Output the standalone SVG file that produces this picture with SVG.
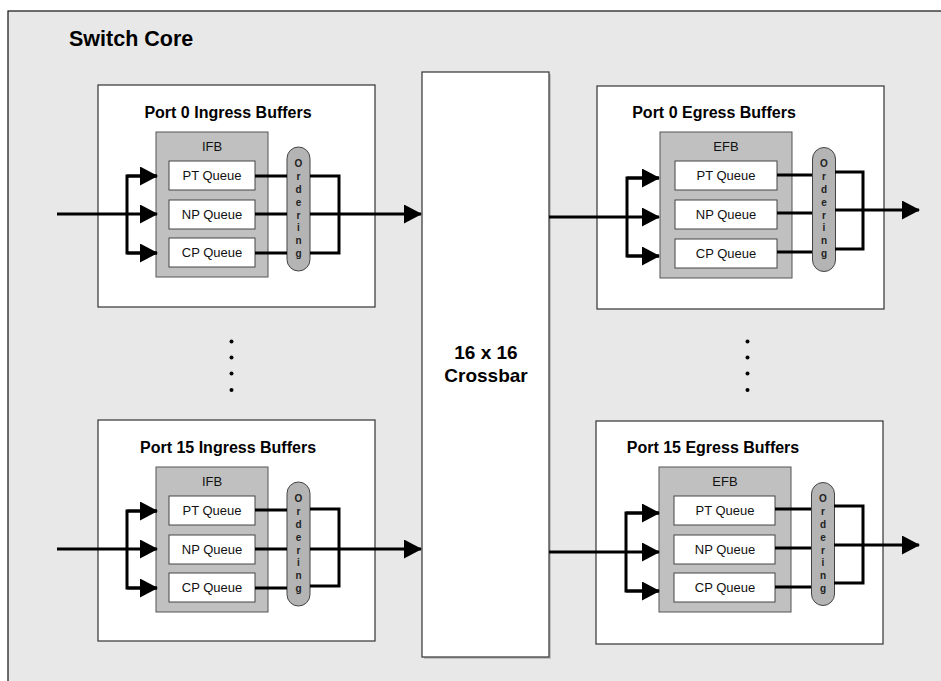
<svg xmlns="http://www.w3.org/2000/svg" width="941" height="681" viewBox="0 0 941 681">
<style>
.frame{fill:#e8e8e8;stroke:#111;stroke-width:1.2}
.box{fill:#fff;stroke:#333;stroke-width:1.2}
.fb{fill:#c0c0c0;stroke:#555;stroke-width:1}
.q{fill:#fff;stroke:#444;stroke-width:1}
.ord{fill:#b4b4b4;stroke:#444;stroke-width:1}
.title{font-family:"Liberation Sans",Arial,sans-serif;font-weight:bold;font-size:16px;fill:#000;text-anchor:middle}
.lbl{font-family:"Liberation Sans",Arial,sans-serif;font-size:13px;fill:#111;text-anchor:middle}
.ol{font-family:"Liberation Sans",Arial,sans-serif;font-weight:bold;font-size:10px;fill:#222;text-anchor:middle}
.big{font-family:"Liberation Sans",Arial,sans-serif;font-weight:bold;font-size:19px;fill:#000;text-anchor:middle}
.w{fill:none;stroke:#000;stroke-width:3}
.a{fill:none;stroke:#000;stroke-width:3;marker-end:url(#ah)}
.dot{fill:#000}
</style>
<defs>
<marker id="ah" markerUnits="userSpaceOnUse" markerWidth="18" markerHeight="19" refX="17" refY="9.5" orient="auto" viewBox="0 0 18 19">
<path d="M0,0 L18,9.5 L0,19 z" fill="#000"/>
</marker>
</defs>

<g id="switch-core">
<rect class="frame" x="8" y="11" width="940" height="680"/>
<text x="69" y="46" font-family="'Liberation Sans',Arial,sans-serif" font-weight="bold" font-size="21.5" fill="#000">Switch Core</text>
</g>

<g id="crossbar">
<rect x="424" y="74" width="127" height="585" fill="#999" opacity="0.5"/>
<rect class="box" x="422" y="72" width="127" height="585"/>
<text class="big" x="486" y="359">16 x 16</text>
<text class="big" x="486" y="382">Crossbar</text>
</g>

<g id="ingress0">
<rect class="box" x="98" y="85" width="277" height="222"/>
<text class="title" x="228" y="118">Port 0 Ingress Buffers</text>
<rect class="fb" x="156" y="132" width="112" height="145"/>
<text class="lbl" x="212" y="151">IFB</text>
<rect class="q" x="169" y="161" width="86" height="29"/><text class="lbl" x="212" y="180">PT Queue</text>
<rect class="q" x="169" y="200" width="86" height="29"/><text class="lbl" x="212" y="219">NP Queue</text>
<rect class="q" x="169" y="238" width="86" height="29"/><text class="lbl" x="212" y="257">CP Queue</text>
<rect class="ord" x="287" y="147" width="23" height="124" rx="11.5"/>
<text class="ol" x="298.5" y="167">O</text><text class="ol" x="298.5" y="180">r</text><text class="ol" x="298.5" y="193">d</text><text class="ol" x="298.5" y="206">e</text><text class="ol" x="298.5" y="219">r</text><text class="ol" x="298.5" y="231">i</text><text class="ol" x="298.5" y="244">n</text><text class="ol" x="298.5" y="257">g</text>
</g>

<g id="ingress15">
<rect class="box" x="98" y="420" width="277" height="221"/>
<text class="title" x="228" y="453">Port 15 Ingress Buffers</text>
<rect class="fb" x="156" y="467" width="112" height="145"/>
<text class="lbl" x="212" y="486">IFB</text>
<rect class="q" x="169" y="496" width="86" height="29"/><text class="lbl" x="212" y="515">PT Queue</text>
<rect class="q" x="169" y="535" width="86" height="29"/><text class="lbl" x="212" y="554">NP Queue</text>
<rect class="q" x="169" y="573" width="86" height="29"/><text class="lbl" x="212" y="592">CP Queue</text>
<rect class="ord" x="287" y="482" width="23" height="124" rx="11.5"/>
<text class="ol" x="298.5" y="502">O</text><text class="ol" x="298.5" y="515">r</text><text class="ol" x="298.5" y="528">d</text><text class="ol" x="298.5" y="541">e</text><text class="ol" x="298.5" y="554">r</text><text class="ol" x="298.5" y="566">i</text><text class="ol" x="298.5" y="579">n</text><text class="ol" x="298.5" y="592">g</text>
</g>

<g id="egress0">
<rect class="box" x="597" y="86" width="287" height="223"/>
<text class="title" x="714" y="118">Port 0 Egress Buffers</text>
<rect class="fb" x="660" y="132" width="132" height="146"/>
<text class="lbl" x="726" y="151">EFB</text>
<rect class="q" x="675" y="161" width="102" height="29"/><text class="lbl" x="726" y="180">PT Queue</text>
<rect class="q" x="675" y="200" width="102" height="29"/><text class="lbl" x="726" y="219">NP Queue</text>
<rect class="q" x="675" y="239" width="102" height="29"/><text class="lbl" x="726" y="258">CP Queue</text>
<rect class="ord" x="812.5" y="147.5" width="23" height="124" rx="11.5"/>
<text class="ol" x="824" y="167">O</text><text class="ol" x="824" y="180">r</text><text class="ol" x="824" y="193">d</text><text class="ol" x="824" y="206">e</text><text class="ol" x="824" y="219">r</text><text class="ol" x="824" y="231">i</text><text class="ol" x="824" y="244">n</text><text class="ol" x="824" y="257">g</text>
</g>

<g id="egress15">
<rect class="box" x="596" y="421" width="287" height="223"/>
<text class="title" x="713" y="453">Port 15 Egress Buffers</text>
<rect class="fb" x="659" y="467" width="132" height="145"/>
<text class="lbl" x="725" y="486">EFB</text>
<rect class="q" x="674" y="496" width="101" height="29"/><text class="lbl" x="725" y="515">PT Queue</text>
<rect class="q" x="674" y="535" width="101" height="29"/><text class="lbl" x="725" y="554">NP Queue</text>
<rect class="q" x="674" y="573" width="101" height="29"/><text class="lbl" x="725" y="592">CP Queue</text>
<rect class="ord" x="811.5" y="482.5" width="23" height="123" rx="11.5"/>
<text class="ol" x="823" y="502">O</text><text class="ol" x="823" y="515">r</text><text class="ol" x="823" y="528">d</text><text class="ol" x="823" y="541">e</text><text class="ol" x="823" y="554">r</text><text class="ol" x="823" y="566">i</text><text class="ol" x="823" y="579">n</text><text class="ol" x="823" y="592">g</text>
</g>

<g id="ellipsis">
<circle class="dot" cx="231.5" cy="341.5" r="2"/><circle class="dot" cx="231.5" cy="357.5" r="2"/><circle class="dot" cx="231.5" cy="373.5" r="2"/><circle class="dot" cx="231.5" cy="390" r="2"/>
<circle class="dot" cx="747.5" cy="341.5" r="2"/><circle class="dot" cx="747.5" cy="357.5" r="2"/><circle class="dot" cx="747.5" cy="373.5" r="2"/><circle class="dot" cx="747.5" cy="390" r="2"/>
</g>

<g id="connectors">
<path class="a" d="M57,214 H157"/>
<path class="w" d="M157,176 H127 V253 H157"/>
<path class="a" d="M127,176 H157"/>
<path class="a" d="M127,253 H157"/>
<path class="w" d="M255,176 H287 M255,214 H287 M255,253 H287"/>
<path class="w" d="M310,176 H339 V253 H310"/>
<path class="a" d="M310,214 H421"/>
<path class="a" d="M57,549 H157"/>
<path class="w" d="M157,511 H127 V588 H157"/>
<path class="a" d="M127,511 H157"/>
<path class="a" d="M127,588 H157"/>
<path class="w" d="M255,510 H287 M255,549 H287 M255,588 H287"/>
<path class="w" d="M310,509 H339 V586 H310"/>
<path class="a" d="M310,549 H421"/>
<path class="a" d="M549,217 H659"/>
<path class="w" d="M659,178 H627 V256 H659"/>
<path class="a" d="M627,178 H659"/>
<path class="a" d="M627,256 H659"/>
<path class="w" d="M777,175 H812 M777,213 H812 M777,252 H812"/>
<path class="w" d="M835,172 H863 V249 H835"/>
<path class="a" d="M835,210 H919"/>
<path class="a" d="M549,552 H659"/>
<path class="w" d="M659,513 H626 V591 H659"/>
<path class="a" d="M626,513 H659"/>
<path class="a" d="M626,591 H659"/>
<path class="w" d="M775,509 H811 M775,548 H811 M775,587 H811"/>
<path class="w" d="M834,506 H863 V583 H834"/>
<path class="a" d="M834,545 H919"/>
</g>
</svg>
